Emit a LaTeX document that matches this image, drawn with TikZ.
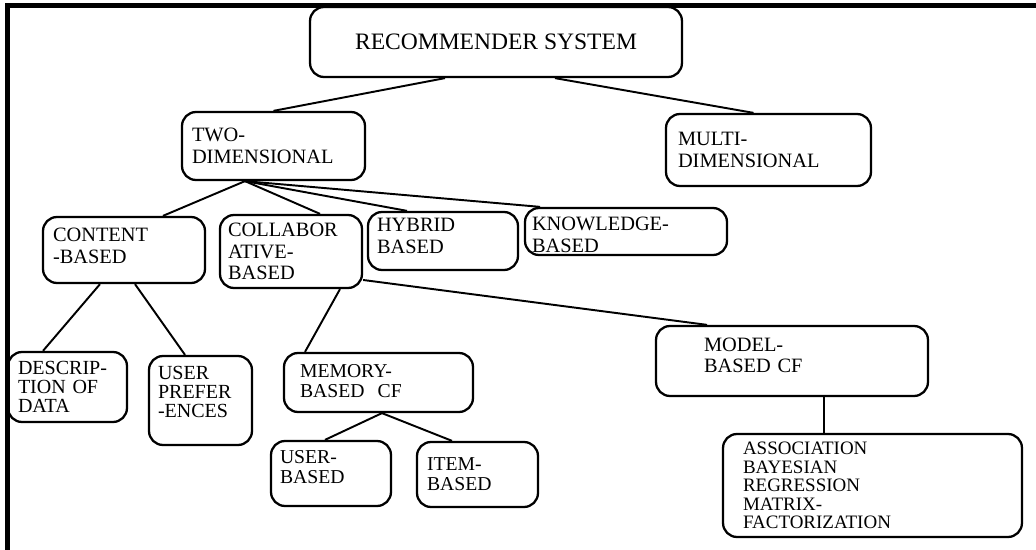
\documentclass[tikz,border=0pt]{standalone}
\usepackage{fontspec}
\setmainfont{Liberation Serif}
\usepackage{tikz}
\usetikzlibrary{calc}
\tikzstyle{box} = [rectangle, rounded corners=0.28cm, draw=black, line width=1.3pt, align=left, inner xsep=0.2cm, inner ysep=0pt, font=\fontsize{11.6}{12.3}\selectfont]
\tikzstyle{tight} = [font=\fontsize{11.4}{10.6}\selectfont]
\tikzstyle{line} = [line width=1.1pt]
\tikzstyle{frame} = [line width=2.4pt]

\begin{document}
\begin{tikzpicture}[x=0.02cm, y=-0.02cm]
	\useasboundingbox (0,0) rectangle (1036,550);
	\draw [frame] (1036,5.5) -- (7.5,5.5) -- (7.5,550);
	\node (rs) [box, align=center, minimum width=7.44cm, minimum height=1.4cm, font=\fontsize{13.4}{14}\selectfont] at (496,42) {RECOMMENDER SYSTEM};
	\node (two) [box, text width=3.26cm, minimum height=1.36cm] at (273.5,146) {TWO-\\DIMENSIONAL};
	\node (multi) [box, inner xsep=0.24cm, text width=3.62cm, minimum height=1.44cm] at (768.5,150) {MULTI-\\DIMENSIONAL};
	\node (content) [box, text width=2.84cm, minimum height=1.32cm, text depth=17pt] at (124,250) {CONTENT\\-BASED};
	\node (collab) [box, inner xsep=0.16cm, text width=2.52cm, minimum height=1.46cm] at (291,251.5) {COLLABOR\\ATIVE-\\BASED};
	\node (hybrid) [box, inner xsep=0.18cm, text width=2.64cm, minimum height=1.16cm, text depth=18pt] at (443,241) {HYBRID\\BASED};
	\node (know) [box, inner xsep=0.14cm, text width=3.76cm, minimum height=0.94cm, text depth=8.5pt] at (626,231.5) {KNOWLEDGE-\\BASED};
	\node (model) [box, inner xsep=0.96cm, text width=3.52cm, minimum height=1.4cm, text depth=19pt] at (792,361) {MODEL-\\BASED CF};
	\node (assoc) [box, inner xsep=0.4cm, text width=5.18cm, minimum height=2.06cm, font=\fontsize{10.8}{10.5}\selectfont] at (872.5,485.5) {ASSOCIATION\\BAYESIAN\\REGRESSION\\MATRIX-\\FACTORIZATION};
	\node (descr) [box, tight, text width=1.98cm, minimum height=1.4cm] at (67.5,387) {DESCRIP-\\TION OF\\DATA};
	\node (pref) [box, tight, inner xsep=0.18cm, text width=1.70cm, minimum height=1.78cm, text depth=31pt] at (200.5,400.5) {USER\\PREFER\\-ENCES};
	\node (memory) [box, inner xsep=0.32cm, text width=3.14cm, minimum height=1.18cm, text depth=13pt, font=\fontsize{11.2}{11.4}\selectfont] at (378.5,382.5) {MEMORY-\\BASED\ \ CF};
	\node (userb) [box, inner xsep=0.18cm, text width=2.04cm, minimum height=1.3cm, text depth=18.5pt, font=\fontsize{11.2}{11.4}\selectfont] at (331,473.5) {USER-\\BASED};
	\node (itemb) [box, text width=2.02cm, minimum height=1.3cm, font=\fontsize{11.2}{11.4}\selectfont] at (477.5,474.5) {ITEM-\\BASED};
	% tree lines
	\coordinate (twofoot) at ([xshift=-0.57cm]two.south);
	\coordinate (memfoot) at ([xshift=0.07cm]memory.south);
	\draw [line] ([xshift=-1.02cm]rs.south) -- (two.north);
	\draw [line] ([xshift=1.18cm]rs.south) -- ([xshift=-0.3cm]multi.north);
	\draw [line] (twofoot) -- ([xshift=0.78cm]content.north);
	\draw [line] (twofoot) -- ([xshift=0.58cm]collab.north);
	\draw [line] (twofoot) -- ([xshift=-0.72cm]hybrid.north);
	\draw [line] (twofoot) -- ([xshift=-1.72cm]know.north);
	\draw [line] ([xshift=-0.48cm]content.south) -- ([xshift=-0.49cm]descr.north);
	\draw [line] ([xshift=0.22cm]content.south) -- ([xshift=-0.31cm]pref.north);
	\draw [line] ([xshift=0.98cm]collab.south) -- ([xshift=-1.47cm]memory.north);
	\draw [line] ([yshift=-0.57cm]collab.east) -- ([xshift=-1.7cm]model.north);
	\draw [line] (memfoot) -- ([xshift=-0.12cm]userb.north);
	\draw [line] (memfoot) -- ([xshift=-0.51cm]itemb.north);
	\draw [line] ([xshift=0.64cm]model.south) -- ([xshift=0.64cm]model.south |- assoc.north);
\end{tikzpicture}
\end{document}
